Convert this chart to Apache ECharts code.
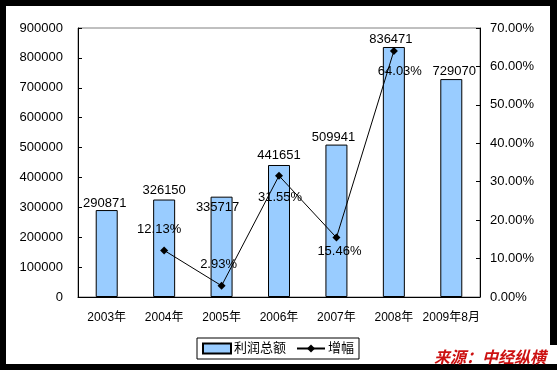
<!DOCTYPE html>
<html>
<head>
<meta charset="utf-8">
<script src="https://cdn.jsdelivr.net/npm/echarts@6/dist/echarts.min.js"></script>
<style>html,body{margin:0;padding:0;background:#000;}#c{width:557px;height:370px;}</style>
</head>
<body>
<div id="c"></div>
<script>
var categories = ['2003年', '2004年', '2005年', '2006年', '2007年', '2008年', '2009年8月'];
var profitTotal = [290871, 326150, 335717, 441651, 509941, 836471, 729070];
var growthPct = [null, 12.13, 2.93, 31.55, 15.46, 64.03, null];
var leftTicks = {min: 0, max: 900000, interval: 100000};
var rightTicks = {min: 0, max: 70, interval: 10};
var seriesNames = ['利润总额', '增幅'];
var sourceText = '来源：中经纵横';

var FONT = '"Liberation Sans", Arial, "Noto Sans CJK SC", sans-serif';

// label placement tweaks (style only)
var barLabelCfg = [
  {position: 'top', distance: 0, offset: [-2, 0]},
  {position: 'top', distance: 3, offset: [0, 0]},
  {position: 'insideTop', distance: 4, offset: [-4, 0]},
  {position: 'top', distance: 3, offset: [0, 0]},
  {position: 'top', distance: 1, offset: [-3, 0]},
  {position: 'top', distance: 1, offset: [-3, 0]},
  {position: 'top', distance: 1, offset: [3, 0]}
];
var lineLabelCfg = [
  null,
  {position: 'top', distance: 10, offset: [-5, 0]},
  {position: 'top', distance: 11, offset: [-3, 0]},
  {position: 'bottom', distance: 11, offset: [1, 0]},
  {position: 'bottom', distance: 3, offset: [3, 0]},
  {position: 'bottom', distance: 10, offset: [6, 0]},
  null
];

var barData = profitTotal.map(function (v, i) {
  var c = barLabelCfg[i];
  return {value: v, label: {position: c.position, distance: c.distance, offset: c.offset}};
});
var lineData = growthPct.map(function (v, i) {
  var c = lineLabelCfg[i];
  if (v === null) return {value: null};
  return {value: v, label: {position: c.position, distance: c.distance, offset: c.offset}};
});

var chart = echarts.init(document.getElementById('c'), null, {renderer: 'canvas'});
chart.setOption({
  backgroundColor: '#000',
  animation: false,
  textStyle: {fontFamily: FONT},
  graphic: [
    {type: 'rect', z: -10, shape: {x: 6, y: 6, width: 544, height: 358}, style: {fill: '#fff'}},
    {type: 'rect', z: -10, shape: {x: 430, y: 345, width: 127, height: 19}, style: {fill: '#fff'}},
    {type: 'text', z: 10, left: 434, top: 349,
      style: {text: sourceText, font: 'italic bold 16px "Noto Sans CJK SC", sans-serif', fill: '#cc1111'}}
  ],
  grid: {left: 78, right: 77, top: 28, bottom: 73, show: true, borderColor: '#808080', borderWidth: 1, backgroundColor: 'transparent'},
  legend: {
    left: 197, top: 338,
    data: [{name: seriesNames[0], icon: 'rect'}, {name: seriesNames[1]}],
    itemWidth: 28, itemHeight: 10, itemGap: 10,
    borderColor: '#000', borderWidth: 1, padding: [4, 5, 4, 5], borderRadius: 0,
    textStyle: {fontSize: 13, color: '#000', fontFamily: FONT, padding: [0, 0, 0, -2]}
  },
  xAxis: {
    type: 'category', data: categories, boundaryGap: true,
    axisLine: {lineStyle: {color: '#000', width: 1}},
    axisTick: {inside: true, length: 4, lineStyle: {color: '#000'}},
    axisLabel: {color: '#000', fontSize: 12, margin: 15, fontFamily: FONT, interval: 0}
  },
  yAxis: [
    {
      type: 'value', min: leftTicks.min, max: leftTicks.max, interval: leftTicks.interval,
      axisLine: {show: true, lineStyle: {color: '#000'}},
      axisTick: {show: true, inside: true, length: 4, lineStyle: {color: '#000'}},
      axisLabel: {color: '#000', fontSize: 13, margin: 15, fontFamily: FONT,
        formatter: function (v) { return String(v); }},
      splitLine: {show: false}
    },
    {
      type: 'value', min: rightTicks.min, max: rightTicks.max, interval: rightTicks.interval,
      axisLine: {show: true, lineStyle: {color: '#000'}},
      axisTick: {show: true, inside: true, length: 4, lineStyle: {color: '#000'}},
      axisLabel: {color: '#000', fontSize: 13, margin: 10, fontFamily: FONT,
        formatter: function (v) { return v.toFixed(2) + '%'; }},
      splitLine: {show: false}
    }
  ],
  series: [
    {
      name: seriesNames[0], type: 'bar', yAxisIndex: 0, barWidth: 22,
      data: barData,
      itemStyle: {color: '#99CCFF', borderColor: '#000', borderWidth: 1},
      label: {show: true, color: '#000', fontSize: 13, fontFamily: FONT}
    },
    {
      name: seriesNames[1], type: 'line', yAxisIndex: 1, data: lineData,
      connectNulls: false,
      symbol: 'diamond', symbolSize: 8,
      lineStyle: {color: '#000', width: 1},
      itemStyle: {color: '#000'},
      label: {show: true, color: '#000', fontSize: 13, fontFamily: FONT,
        formatter: function (p) { return p.value.toFixed(2) + '%'; }},
      z: 5
    }
  ]
});
</script>
</body>
</html>
